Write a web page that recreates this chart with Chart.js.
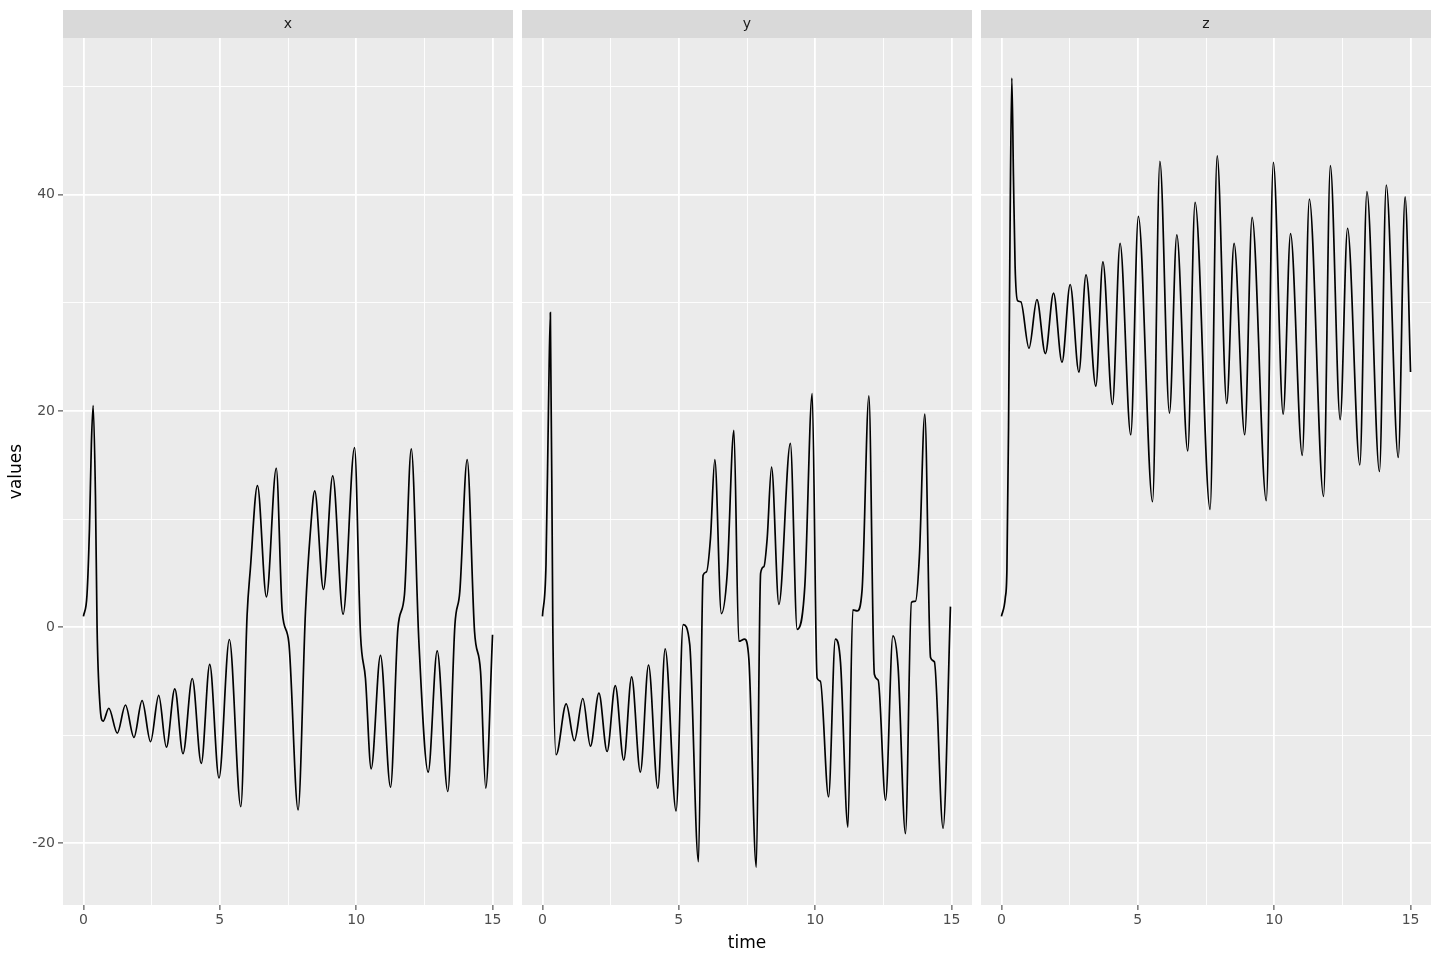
<!DOCTYPE html>
<html>
<head>
<meta charset="utf-8">
<script src="https://cdn.jsdelivr.net/npm/chart.js@4"></script>
<style>
body{margin:0;background:#ffffff;}
#wrap{position:relative;width:1440px;height:960px;background:#ffffff;}
.panel{position:absolute;top:0;}
</style>
</head>
<body>
<div id="wrap">
    <div class="panel" style="left:0px"><canvas id="chartX" width="513" height="960"></canvas></div>
    <div class="panel" style="left:522px"><canvas id="chartY" width="450" height="960"></canvas></div>
    <div class="panel" style="left:981px"><canvas id="chartZ" width="450" height="960"></canvas></div>
</div>
<script>
// values, at the turning points of each curve
let xTime = [0, 0.13, 0.22, 0.29, 0.355, 0.44, 0.5, 0.6, 0.72, 0.93, 1.24, 1.54, 1.85, 2.15, 2.46, 2.76, 3.04, 3.35, 3.65, 3.99,
    4.32, 4.63, 4.97, 5.35, 5.77, 6.0, 6.12, 6.38, 6.71, 7.07, 7.29, 7.53, 7.87, 8.14, 8.32, 8.48, 8.8, 9.14, 9.52, 9.94,
    10.16, 10.34, 10.55, 10.89, 11.26, 11.53, 11.77, 12.02, 12.3, 12.64, 12.97, 13.36, 13.62, 13.8, 14.07, 14.34, 14.56, 14.75, 15.0];
let xValues = [1, 3.0, 9.1, 16.9, 20.5, 12.2, -0.1, -7.0, -8.7, -7.5, -9.8, -7.2, -10.2, -6.8, -10.6, -6.3, -11.1, -5.7, -11.7, -4.75,
    -12.6, -3.45, -13.95, -1.14, -16.6, 1.1, 5.4, 13.1, 2.8, 14.7, 1.4, -1.4, -16.9, 1.4, 8.8, 12.6, 3.5, 14.0, 1.2, 16.6,
    -0.74, -4.75, -13.1, -2.6, -14.8, -0.1, 3.0, 16.5, -1.4, -13.4, -2.2, -15.2, 0.2, 3.3, 15.5, -0.4, -4.1, -14.9, -0.7];

let yTime = [0, 0.13, 0.22, 0.29, 0.38, 0.5, 0.87, 1.17, 1.48, 1.76, 2.07, 2.37, 2.67, 2.98, 3.27, 3.59, 3.89,
    4.23, 4.5, 4.9, 5.16, 5.4, 5.72, 5.89, 6.01, 6.16, 6.32, 6.56, 6.77, 7.02, 7.2, 7.41, 7.57, 7.84,
    8.0, 8.12, 8.24, 8.4, 8.67, 9.09, 9.34, 9.62, 9.89, 10.07, 10.19, 10.49, 10.74, 10.93, 11.2, 11.38, 11.54,
    11.72, 11.97, 12.17, 12.31, 12.58, 12.85, 13.04, 13.31, 13.53, 13.68, 13.82, 14.02, 14.23, 14.37, 14.69, 14.96];
let yValues = [1, 5.8, 20.1, 29.1, 0, -11.8, -7.1, -10.5, -6.6, -11.0, -6.1, -11.5, -5.4, -12.3, -4.6, -13.4, -3.5,
    -14.9, -2.0, -17.0, 0.23, -1.6, -21.7, 4.8, 5.1, 8.2, 15.5, 1.25, 4.8, 18.2, -1.3, -1.1, -3.0, -22.2,
    5.0, 5.6, 8.2, 14.8, 2.1, 17.0, -0.2, 3.8, 21.6, -4.7, -5.0, -15.7, -1.1, -3.3, -18.5, 1.6, 1.5,
    3.45, 21.4, -4.35, -4.9, -16.0, -0.8, -3.7, -19.1, 2.3, 2.4, 6.5, 19.7, -2.8, -3.2, -18.6, 1.9];

let zTime = [0, 0.14, 0.2, 0.26, 0.32, 0.38, 0.44, 0.5, 0.59, 0.71, 1.01, 1.3, 1.61, 1.91, 2.22, 2.52, 2.84, 3.1, 3.46, 3.72,
    4.07, 4.35, 4.74, 5.02, 5.54, 5.81, 6.16, 6.43, 6.83, 7.1, 7.65, 7.91, 8.26, 8.53, 8.92, 9.19, 9.71, 9.97,
    10.33, 10.6, 11.03, 11.29, 11.81, 12.06, 12.42, 12.69, 13.14, 13.4, 13.86, 14.11, 14.55, 14.8, 15.0];
let zValues = [1, 2.7, 5.3, 18.5, 38.3, 50.8, 41.7, 33.4, 30.2, 30.1, 25.8, 30.3, 25.3, 30.9, 24.5, 31.7, 23.6, 32.6, 22.3, 33.8,
    20.6, 35.5, 17.8, 38.0, 11.6, 43.1, 19.8, 36.3, 16.3, 39.3, 10.9, 43.6, 20.7, 35.5, 17.8, 37.9, 11.7, 43.0,
    19.7, 36.4, 15.9, 39.6, 12.1, 42.7, 19.2, 36.9, 15.0, 40.3, 14.4, 40.9, 15.7, 39.8, 23.6];

let timeTicks = [0, 2.5, 5, 7.5, 10, 12.5, 15];
let valueTicks = [-20, -10, 0, 10, 20, 30, 40, 50];

let fontFamily = '"DejaVu Sans", sans-serif';

// grey panel background and the facet strip above it
let panelPlugin = {
    id: 'panel',
    beforeDraw(chart, args, opts){
        let ctx = chart.ctx;
        let a = chart.chartArea;
        ctx.save();
        ctx.fillStyle = '#ebebeb';
        ctx.fillRect(a.left, a.top, a.right - a.left, a.bottom - a.top);
        ctx.fillStyle = '#d9d9d9';
        ctx.fillRect(a.left, a.top - 28, a.right - a.left, 28);
        ctx.fillStyle = '#1a1a1a';
        ctx.font = '14px ' + fontFamily;
        ctx.textAlign = 'center';
        ctx.textBaseline = 'middle';
        ctx.fillText(opts.label, (a.left + a.right) / 2, a.top - 14);
        ctx.restore();
    }
};

function isMajor(c, step){
    return c.tick && Math.abs(c.tick.value / step - Math.round(c.tick.value / step)) < 1e-6;
}

function makeChart(id, name, times, values, first, middle){
    let points = [];
    for(let i = 0; i < times.length; i++){
        points.push({x: times[i], y: values[i]});
    }

    let config = {
        type: 'line',
        data: {
            datasets: [{
                data: points,
                borderColor: '#000000',
                borderWidth: 1.7,
                pointRadius: 0,
                fill: false,
                cubicInterpolationMode: 'monotone'
            }]
        },
        options: {
            responsive: false,
            animation: false,
            events: [],
            layout: {padding: {top: 38, left: 0, right: 0, bottom: 0}},
            plugins: {
                legend: {display: false},
                tooltip: {enabled: false},
                panel: {label: name}
            },
            scales: {
                x: {
                    type: 'linear',
                    min: -0.75,
                    max: 15.75,
                    afterBuildTicks: (s) => { s.ticks = timeTicks.map(v => ({value: v})); },
                    afterFit: (s) => { s.height = 55; },
                    border: {display: false},
                    grid: {
                        color: '#ffffff',
                        lineWidth: (c) => isMajor(c, 5) ? 1.8 : 0.9,
                        tickColor: (c) => isMajor(c, 5) ? '#333333' : 'rgba(0,0,0,0)',
                        tickLength: 5,
                        tickWidth: 1
                    },
                    ticks: {
                        color: '#4d4d4d',
                        font: {family: fontFamily, size: 14},
                        padding: 2,
                        autoSkip: false,
                        maxRotation: 0,
                        callback: (v) => v % 5 === 0 ? String(v) : ''
                    },
                    title: {
                        display: middle,
                        text: 'time',
                        color: '#000000',
                        font: {family: fontFamily, size: 17},
                        padding: {top: 0, bottom: 6}
                    }
                },
                y: {
                    type: 'linear',
                    min: -25.7,
                    max: 54.5,
                    afterBuildTicks: (s) => { s.ticks = valueTicks.map(v => ({value: v})); },
                    afterFit: (s) => { s.width = first ? 63 : 0; },
                    border: {display: false},
                    grid: {
                        color: '#ffffff',
                        lineWidth: (c) => isMajor(c, 20) ? 1.8 : 0.9,
                        tickColor: (c) => (first && isMajor(c, 20)) ? '#333333' : 'rgba(0,0,0,0)',
                        drawTicks: first,
                        tickLength: 5,
                        tickWidth: 1
                    },
                    ticks: {
                        display: first,
                        color: '#4d4d4d',
                        font: {family: fontFamily, size: 14},
                        padding: 3,
                        callback: (v) => v % 20 === 0 ? String(v) : ''
                    },
                    title: {
                        display: first,
                        text: 'values',
                        color: '#000000',
                        font: {family: fontFamily, size: 17},
                        padding: {top: 6, bottom: 0}
                    }
                }
            }
        },
        plugins: [panelPlugin]
    };

    return new Chart(document.getElementById(id), config);
}

let chartX = makeChart('chartX', 'x', xTime, xValues, true, false);
let chartY = makeChart('chartY', 'y', yTime, yValues, false, true);
let chartZ = makeChart('chartZ', 'z', zTime, zValues, false, false);
</script>
</body>
</html>
